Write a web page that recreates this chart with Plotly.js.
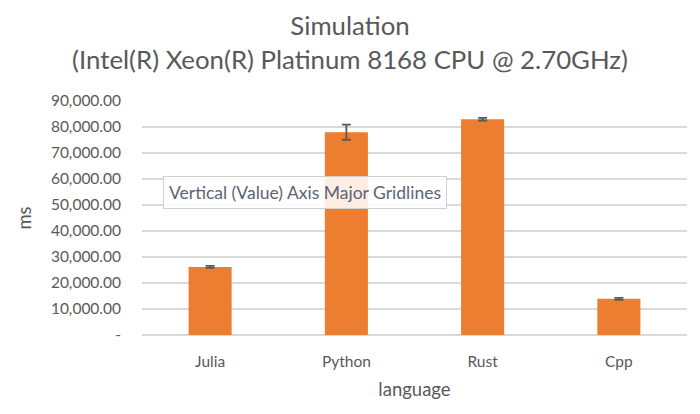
<!DOCTYPE html>
<html>
<head>
<meta charset="utf-8">
<script src="https://cdn.plot.ly/plotly-3.0.1.min.js"></script>
<style>html,body{margin:0;padding:0;background:#fff}#chart{width:700px;height:414px}</style>
</head>
<body>
<div id="chart"></div>
<script>
const languages = ["Julia", "Python", "Rust", "Cpp"];
const timesMs = [26200, 78000, 83000, 13900];
const errorMs = [400, 2900, 500, 400];
const yTickValues = [0, 10000, 20000, 30000, 40000, 50000, 60000, 70000, 80000, 90000];
const yTickLabels = ["-", "10,000.00", "20,000.00", "30,000.00", "40,000.00", "50,000.00", "60,000.00", "70,000.00", "80,000.00", "90,000.00"];

const FONT = "Lato, 'Open Sans', sans-serif";
const GREY = "#595959";

const trace = {
  type: "bar",
  x: languages,
  y: timesMs,
  marker: {color: "#ED7D31"},
  error_y: {type: "data", array: errorMs, visible: true, color: GREY, thickness: 1.8, width: 4.5},
  hoverinfo: "none"
};

const layout = {
  width: 700, height: 414,
  paper_bgcolor: "#fff", plot_bgcolor: "#fff",
  margin: {l: 142, r: 13, t: 101, b: 79},
  font: {family: FONT, color: GREY, size: 15.5},
  title: {
    text: "Simulation<br>(Intel(R) Xeon(R) Platinum 8168 CPU @ 2.70GHz)",
    font: {family: FONT, size: 25.8, color: GREY},
    x: 0.5, xanchor: "center", xref: "container",
    yref: "container", y: 0.915, yanchor: "middle"
  },
  bargap: 0.684,
  showlegend: false,
  xaxis: {
    type: "category",
    showgrid: false, showline: false, zeroline: false,
    ticks: "", ticklabelstandoff: 15,
    tickfont: {family: FONT, size: 15.5, color: GREY},
    title: {text: "language", font: {family: FONT, size: 18.5, color: GREY}, standoff: 14}
  },
  yaxis: {
    range: [0, 90000],
    tickvals: yTickValues, ticktext: yTickLabels,
    showgrid: true, gridcolor: "#D9D9D9", gridwidth: 1.5,
    zeroline: true, zerolinecolor: "#D9D9D9", zerolinewidth: 1.5,
    showline: false, ticks: "", ticklabelstandoff: 20,
    tickfont: {family: FONT, size: 15.5, color: GREY},
    title: {text: "ms", font: {family: FONT, size: 18.5, color: GREY}, standoff: 14}
  },
  annotations: [
    {
      xref: "paper", yref: "paper", x: 0.0385, y: 0.611, xanchor: "left", yanchor: "middle",
      text: "Vertical (Value) Axis Major Gridlines", showarrow: false,
      font: {family: FONT, size: 17.5, color: "#5B6475"},
      bgcolor: "rgba(255,255,255,0.86)", bordercolor: "#CFCFCF", borderwidth: 1, borderpad: 5
    }
  ]
};

Plotly.newPlot("chart", [trace], layout, {displayModeBar: false, staticPlot: true});
</script>
</body>
</html>
